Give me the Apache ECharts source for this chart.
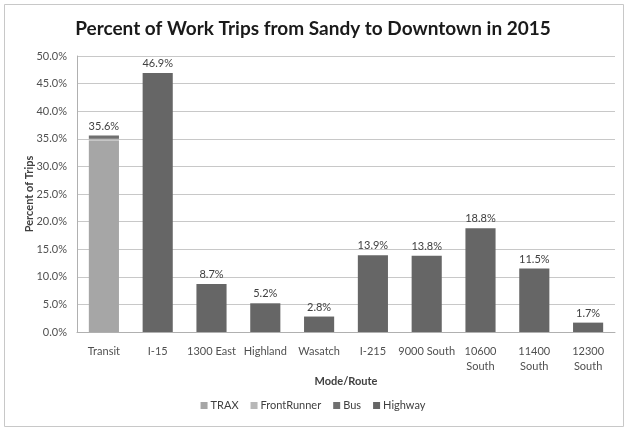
<!DOCTYPE html>
<html><head><meta charset="utf-8">
<script src="https://cdn.jsdelivr.net/npm/echarts@6/dist/echarts.min.js"></script>
<style>html,body{margin:0;padding:0;background:#fff}#c{width:626px;height:428px}</style>
</head><body><div id="c"></div>
<script>
var categories = ['Transit','I-15','1300 East','Highland','Wasatch','I-215','9000 South','10600\nSouth','11400\nSouth','12300\nSouth'];
var trax =        [34.7, null, null, null, null, null, null, null, null, null];
var frontRunner = [0.3,  null, null, null, null, null, null, null, null, null];
var bus =         [0.6,  null, null, null, null, null, null, null, null, null];
var highway =     [null, 46.9, 8.7, 5.2, 2.8, 13.9, 13.8, 18.8, 11.5, 1.7];
var yTicks = [0,5,10,15,20,25,30,35,40,45,50];

var font = 'Lato, "Open Sans", sans-serif';
var chart = echarts.init(document.getElementById('c'));
function total(i){ return (trax[i]||0)+(frontRunner[i]||0)+(bus[i]||0); }
var lbl = {show:true, position:'top', color:'#404040', fontSize:11, fontFamily:font, distance:4};
chart.setOption({
  backgroundColor:'#ffffff',
  animation:false,
  graphic:[{type:'rect', shape:{x:4.5,y:4.5,width:619,height:422}, style:{fill:'none', stroke:'#c8c8c8', lineWidth:1}, silent:true}],
  title:{text:'Percent of Work Trips from Sandy to Downtown in 2015', left:'center', top:14,
    textStyle:{fontFamily:font, fontSize:19, fontWeight:'bold', color:'#1a1a1a'}},
  legend:{bottom:12, left:'center', itemWidth:7, itemHeight:7, itemGap:12, icon:'rect',
    textStyle:{fontFamily:font, fontSize:11, color:'#404040', padding:[0,0,0,-2]},
    data:['TRAX','FrontRunner','Bus','Highway']},
  grid:{left:77, right:11, top:56, bottom:96},
  xAxis:{type:'category', data:categories, name:'Mode/Route', nameLocation:'middle', nameGap:44,
    nameMoveOverlap:false,
    nameTextStyle:{fontFamily:font, fontSize:11, fontWeight:'bold', color:'#404040'},
    axisLine:{lineStyle:{color:'#b0b0b0'}}, axisTick:{show:false},
    axisLabel:{fontFamily:font, fontSize:11, color:'#505050', margin:12, lineHeight:15, interval:0}},
  yAxis:{type:'value', min:yTicks[0], max:yTicks[yTicks.length-1], interval:5,
    name:'Percent of Trips', nameLocation:'middle', nameGap:42, nameMoveOverlap:false,
    nameTextStyle:{fontFamily:font, fontSize:11, fontWeight:'bold', color:'#404040'},
    axisLine:{show:true, lineStyle:{color:'#b0b0b0'}}, axisTick:{show:false},
    splitLine:{lineStyle:{color:'#c8c8c8'}},
    axisLabel:{fontFamily:font, fontSize:11, color:'#505050', margin:10, formatter:function(v){return v.toFixed(1)+'%';}}},
  series:[
    {name:'TRAX', type:'bar', stack:'s', data:trax, barWidth:'56%', itemStyle:{color:'#a6a6a6'}},
    {name:'FrontRunner', type:'bar', stack:'s', data:frontRunner, itemStyle:{color:'#b8b8b8'}},
    {name:'Bus', type:'bar', stack:'s', data:bus, itemStyle:{color:'#707070'},
      label:Object.assign({}, lbl, {formatter:function(p){return total(p.dataIndex).toFixed(1)+'%';}})},
    {name:'Highway', type:'bar', stack:'s', data:highway, itemStyle:{color:'#666666'},
      label:Object.assign({}, lbl, {formatter:function(p){return p.value.toFixed(1)+'%';}})}
  ]
});
</script></body></html>
